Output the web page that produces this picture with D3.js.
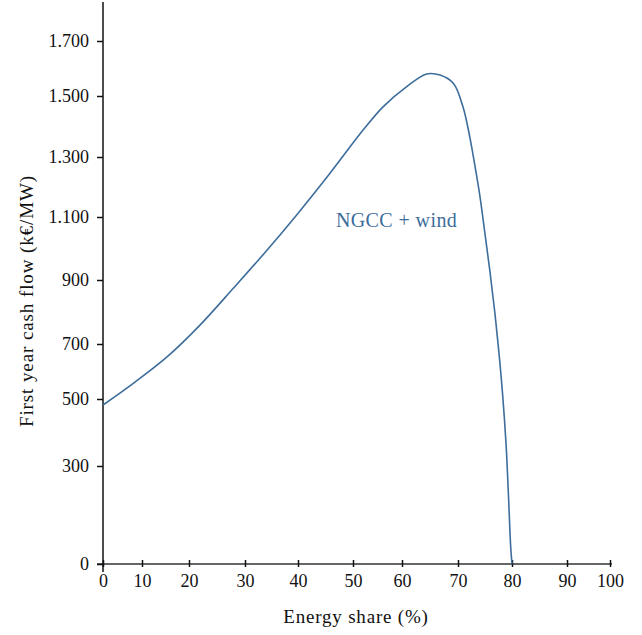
<!DOCTYPE html>
<html>
<head>
<meta charset="utf-8">
<script src="https://cdn.jsdelivr.net/npm/d3@7"></script>
<style>
  body { margin: 0; background: #fff; }
  text { font-family: "Liberation Serif", "DejaVu Serif", serif; }
</style>
</head>
<body>
<svg id="chart" width="642" height="635"></svg>
<script>
// values
var share = [0, 7.77, 15.26, 21.96, 27.91, 33.45, 39.75, 45.82, 52.1, 56.18, 60.84, 64.41, 66.79, 69.16,
    70.93, 72.22, 73.33, 74.07, 75.0, 75.93, 76.81, 77.59, 78.3, 78.93, 79.22, 79.48, 79.76, 80];
var cashFlow = [482, 557, 652, 759, 874, 981, 1107, 1246, 1389, 1465, 1534, 1580, 1576, 1546,
    1464, 1362, 1250, 1168, 1046, 925, 800, 667, 507, 357, 257, 156, 52, 0];

var xTicks = [0, 10, 20, 30, 40, 50, 60, 70, 80, 90, 100];
var yTicks = [0, 300, 500, 700, 900, 1100, 1300, 1500, 1700];
var yTickLabels = ["0", "300", "500", "700", "900", "1.100", "1.300", "1.500", "1.700"];
var seriesName = "NGCC + wind";

var svg = d3.select("#chart");

// the original axes are not evenly spaced, so use piecewise scales
var x = d3.scaleLinear()
    .domain(xTicks)
    .range([103, 142, 189, 245, 298, 353, 402, 458, 512, 567, 610]);

var y = d3.scaleLinear()
    .domain([0, 300, 500, 700, 900, 1100, 1300, 1500, 1700, 1840])
    .range([564, 466, 399, 344, 280, 217, 157, 96, 41, 2]);

var blue = "#3d6d9b";

// x axis
var xAxis = svg.append("g")
    .attr("transform", "translate(0,564)")
    .call(d3.axisBottom(x).tickValues(xTicks).tickSize(-4).tickPadding(10).tickFormat(d3.format("d")));
xAxis.select(".domain").attr("d", "M97,0H612").attr("stroke", "#333").attr("stroke-width", 1.5);
xAxis.selectAll(".tick line").attr("stroke", "#111").attr("stroke-width", 1.5).attr("y1", 3);
xAxis.selectAll(".tick text").attr("font-size", 18).attr("fill", "#111")
    .attr("font-family", "Liberation Serif, serif").attr("y", 10).attr("dy", "0.71em");

// y axis
var yAxis = svg.append("g")
    .attr("transform", "translate(103,0)")
    .call(d3.axisLeft(y).tickValues(yTicks).tickSize(6).tickPadding(8)
        .tickFormat(function (d, i) { return yTickLabels[i]; }));
yAxis.select(".domain").attr("d", "M0,2V572").attr("stroke", "#111").attr("stroke-width", 1.5);
yAxis.selectAll(".tick line").attr("stroke", "#111").attr("stroke-width", 1.5);
yAxis.selectAll(".tick text").attr("font-size", 18).attr("fill", "#111")
    .attr("font-family", "Liberation Serif, serif");

// curve
var points = share.map(function (d, i) { return [d, cashFlow[i]]; });
var line = d3.line()
    .x(function (d) { return x(d[0]); })
    .y(function (d) { return y(d[1]); })
    .curve(d3.curveCatmullRom.alpha(0.5));

svg.append("path")
    .datum(points)
    .attr("d", line)
    .attr("fill", "none")
    .attr("stroke", blue)
    .attr("stroke-width", 1.6);

// series label
svg.append("text")
    .attr("x", x(46.9))
    .attr("y", y(1068))
    .attr("font-size", 20)
    .attr("letter-spacing", 0.4)
    .attr("fill", blue)
    .text(seriesName);

// axis titles
svg.append("text")
    .attr("x", 356)
    .attr("y", 623)
    .attr("text-anchor", "middle")
    .attr("font-size", 19)
    .attr("letter-spacing", 0.8)
    .attr("fill", "#111")
    .text("Energy share (%)");

svg.append("text")
    .attr("transform", "translate(33,301) rotate(-90)")
    .attr("text-anchor", "middle")
    .attr("font-size", 19)
    .attr("letter-spacing", 0.9)
    .attr("fill", "#111")
    .text("First year cash flow (k€/MW)");
</script>
</body>
</html>
